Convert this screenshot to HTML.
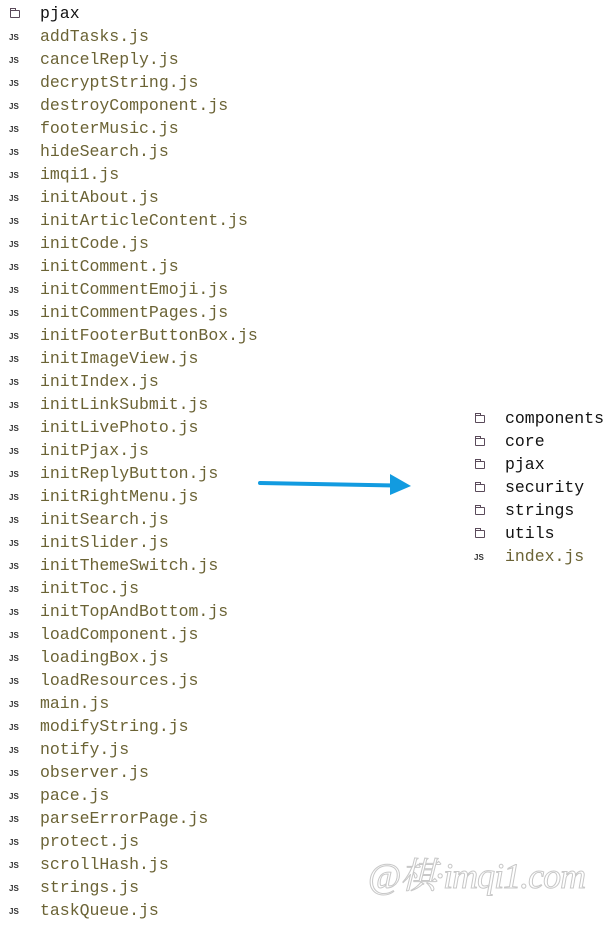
<!DOCTYPE html>
<html><head><meta charset="utf-8"><style>
body{margin:0;width:615px;height:925px;background:#fff;position:relative;overflow:hidden;font-family:"Liberation Mono",monospace;}
.r{position:absolute;height:23px;line-height:23px;font-size:16.5px;white-space:nowrap;}
.r span{position:absolute;left:31px;}
.js span{color:#6b6335;}
.d span{color:#111;}
.ic{position:absolute;left:0;top:0;}
.js .ic{font-family:"Liberation Sans",sans-serif;font-weight:bold;font-size:8px;color:#333;top:1px;}
.d .ic{top:8px;left:1px;width:10px;height:8px;border:1.3px solid #5a4a5a;border-radius:1px;box-sizing:border-box;}
.d .ic:before{content:"";position:absolute;left:-1.3px;top:-3px;width:4px;height:2px;border:1.3px solid #5a4a5a;border-bottom:none;}
.wm{position:absolute;left:368px;top:848px;font-size:36px;font-style:italic;color:#fff;-webkit-text-stroke:1px #c8c8c8;font-family:"Liberation Serif","Noto Serif CJK SC",serif;letter-spacing:-1px;}
</style></head><body>
<div id="l"></div>
<div id="rr"></div>
<svg style="position:absolute;left:0;top:0" width="615" height="925">
<line x1="260" y1="483" x2="395" y2="485.5" stroke="#129be0" stroke-width="4" stroke-linecap="round"/>
<polygon points="390,474 411,486 390,495" fill="#129be0"/>
</svg>
<div class="wm">@棋·imqi1.com</div>
<script>
var L=["d:pjax","addTasks.js","cancelReply.js","decryptString.js","destroyComponent.js","footerMusic.js","hideSearch.js","imqi1.js","initAbout.js","initArticleContent.js","initCode.js","initComment.js","initCommentEmoji.js","initCommentPages.js","initFooterButtonBox.js","initImageView.js","initIndex.js","initLinkSubmit.js","initLivePhoto.js","initPjax.js","initReplyButton.js","initRightMenu.js","initSearch.js","initSlider.js","initThemeSwitch.js","initToc.js","initTopAndBottom.js","loadComponent.js","loadingBox.js","loadResources.js","main.js","modifyString.js","notify.js","observer.js","pace.js","parseErrorPage.js","protect.js","scrollHash.js","strings.js","taskQueue.js"];
var R=["d:components","d:core","d:pjax","d:security","d:strings","d:utils","index.js"];
function mk(arr,x,y0){var h="";arr.forEach(function(n,i){var d=n.indexOf("d:")==0;var t=d?n.slice(2):n;
h+='<div class="r '+(d?'d':'js')+'" style="left:'+x+'px;top:'+(y0+i*23)+'px"><div class="ic">'+(d?'':'JS')+'</div><span>'+t+'</span></div>';});return h;}
document.getElementById("l").innerHTML=mk(L,9,2);
document.getElementById("rr").innerHTML=mk(R,474,407);
</script>
</body></html>
